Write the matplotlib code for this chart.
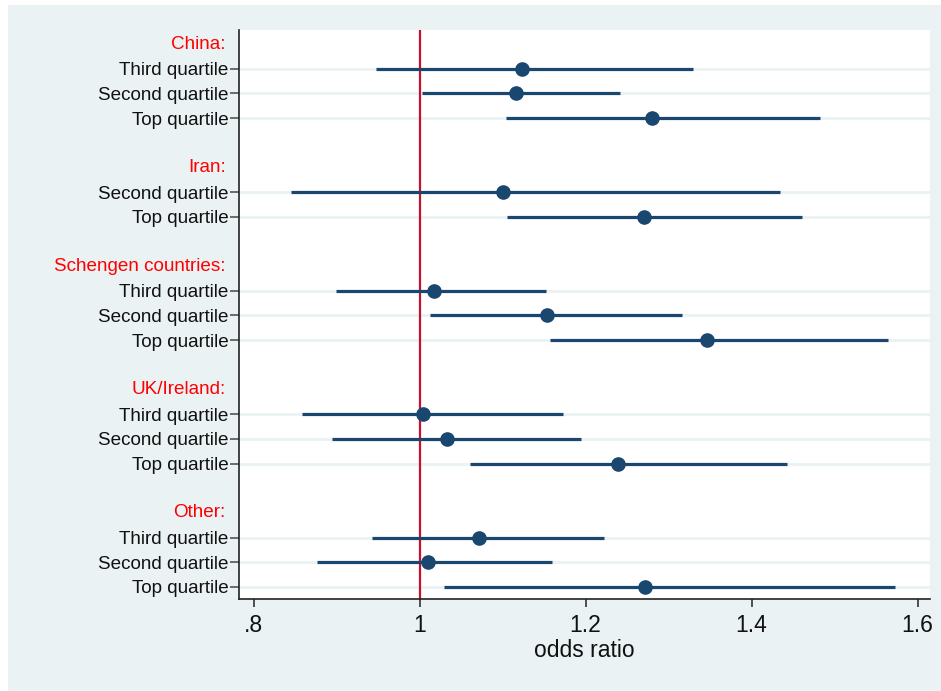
import matplotlib
matplotlib.use('Agg')
import matplotlib.pyplot as plt
from matplotlib.patches import Rectangle
from matplotlib.transforms import blended_transform_factory

# groups and their rows (top to bottom)
groups = ['China:', 'Iran:', 'Schengen countries:', 'UK/Ireland:', 'Other:']
group_rows = [
    ['Third quartile', 'Second quartile', 'Top quartile'],
    ['Second quartile', 'Top quartile'],
    ['Third quartile', 'Second quartile', 'Top quartile'],
    ['Third quartile', 'Second quartile', 'Top quartile'],
    ['Third quartile', 'Second quartile', 'Top quartile'],
]

# odds ratios and 95% CI, same order as the rows above
odds = [1.123, 1.116, 1.280,
        1.100, 1.270,
        1.017, 1.153, 1.346,
        1.004, 1.033, 1.239,
        1.072, 1.010, 1.272]
ci_low = [0.948, 1.003, 1.104,
          0.845, 1.105,
          0.899, 1.013, 1.157,
          0.859, 0.895, 1.061,
          0.943, 0.877, 1.029]
ci_high = [1.329, 1.242, 1.483,
           1.434, 1.461,
           1.152, 1.316, 1.564,
           1.173, 1.194, 1.443,
           1.222, 1.160, 1.573]

xticks = [0.8, 1.0, 1.2, 1.4, 1.6]
xtick_labels = ['.8', '1', '1.2', '1.4', '1.6']

BG = '#EAF2F3'
NAVY = '#1A476F'
RED = '#C8102E'

plt.rcParams['font.family'] = ['Liberation Sans', 'DejaVu Sans']

fig = plt.figure(figsize=(9.41, 6.91), dpi=100)
fig.patch.set_facecolor('white')
# light background with thin white border at top/left
fig.patches.append(Rectangle((8 / 941, 0), 1, 1 - 5 / 691, transform=fig.transFigure,
                             facecolor=BG, edgecolor='none', zorder=-10))

ax = fig.add_axes([239 / 941, 1 - 599 / 691, (930 - 239) / 941, (599 - 30) / 691])
ax.set_facecolor('white')

# layout row positions: header row, then its items, blank row between groups
pos = 1
header_pos = []
row_pos = []
row_labels = []
for gi, (g, rows) in enumerate(zip(groups, group_rows)):
    if gi > 0:
        pos += 1
    header_pos.append(pos)
    pos += 1
    for r in rows:
        row_pos.append(pos)
        row_labels.append(r)
        pos += 1

# grid lines at each coefficient row
for y in row_pos:
    ax.axhline(y, color=BG, lw=2, zorder=1)

ax.axvline(1.0, color=RED, lw=1.6, zorder=2)

for y, o, lo, hi in zip(row_pos, odds, ci_low, ci_high):
    ax.plot([lo, hi], [y, y], color=NAVY, lw=2.3, solid_capstyle='butt', zorder=3)
ax.plot(odds, row_pos, 'o', color=NAVY, markersize=9.5, zorder=4)

ax.set_xlim(0.7825, 1.615)
ax.set_ylim(23.49, 0.43)

ax.set_yticks(row_pos)
ax.set_yticklabels(row_labels, fontsize=13.6, color='#111111')
ax.tick_params(axis='y', length=6.5, width=1.2, color='#555555', pad=1.2)

ax.set_xticks(xticks)
ax.set_xticklabels(xtick_labels, fontsize=16.5, color='#111111')
ax.tick_params(axis='x', length=6, width=1.2, color='#333333', pad=5)
ax.set_xlabel('odds ratio', fontsize=16.5, color='#111111', labelpad=1)

trans = blended_transform_factory(ax.transAxes, ax.transData)
for g, y in zip(groups, header_pos):
    ax.text(-0.019, y, g, transform=trans, ha='right', va='center',
            fontsize=13.6, color='#FF0000')

for side in ['top', 'right']:
    ax.spines[side].set_visible(False)
for side in ['left', 'bottom']:
    ax.spines[side].set_color('#222222')
    ax.spines[side].set_linewidth(1.2)

fig.savefig('out.png', dpi=100, facecolor=fig.get_facecolor())
